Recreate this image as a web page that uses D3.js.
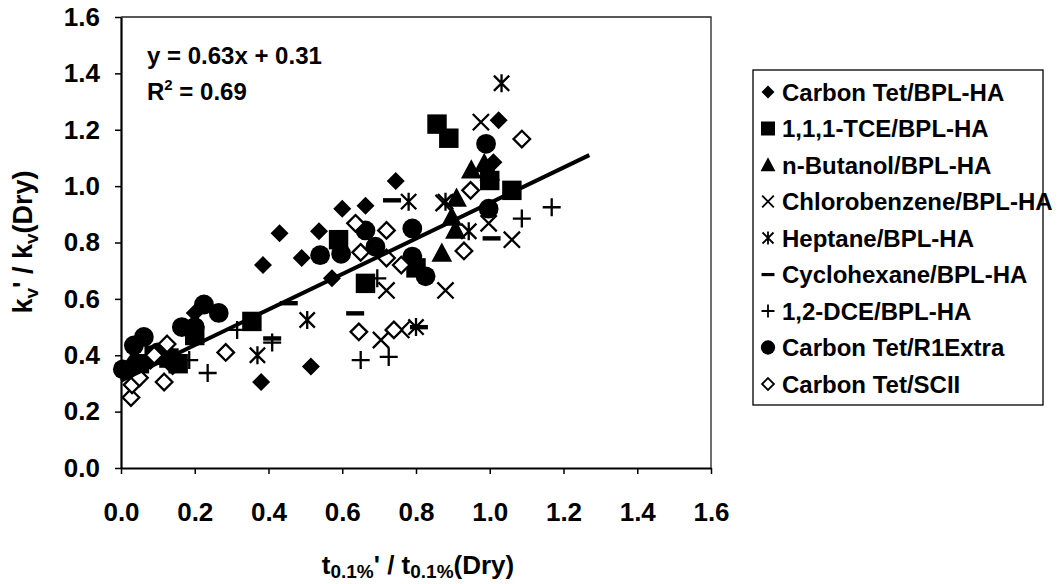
<!DOCTYPE html>
<html>
<head>
<meta charset="utf-8">
<script src="https://cdn.jsdelivr.net/npm/d3@7"></script>
<style>
  body { margin: 0; background: #fff; }
  text { font-family: "Liberation Sans", Arial, sans-serif; font-weight: bold; fill: #000; }
</style>
</head>
<body>
<svg id="chart" width="1063" height="584"></svg>
<script>
// axis ticks
const xTicks = [0, 0.2, 0.4, 0.6, 0.8, 1.0, 1.2, 1.4, 1.6];
const yTicks = [0, 0.2, 0.4, 0.6, 0.8, 1.0, 1.2, 1.4, 1.6];

const seriesNames = [
  "Carbon Tet/BPL-HA", "1,1,1-TCE/BPL-HA", "n-Butanol/BPL-HA", "Chlorobenzene/BPL-HA",
  "Heptane/BPL-HA", "Cyclohexane/BPL-HA", "1,2-DCE/BPL-HA", "Carbon Tet/R1Extra", "Carbon Tet/SCII"
];
const markerKinds = ["diamond", "square", "triangle", "cross", "star", "dash", "plus", "circle", "openDiamond"];

// [x, y] pairs
const carbonTetBPL = [[0.03,0.34],[0.08,0.38],[0.14,0.36],[0.12,0.42],[0.2,0.55],[0.38,0.305],[0.385,0.72],
  [0.43,0.833],[0.49,0.745],[0.515,0.36],[0.537,0.84],[0.572,0.673],[0.6,0.92],[0.663,0.93],[0.745,1.018],
  [1.01,1.085],[1.024,1.234]];
const tceBPL = [[0.05,0.37],[0.09,0.4],[0.13,0.39],[0.155,0.37],[0.2,0.47],[0.355,0.52],[0.59,0.81],
  [0.663,0.655],[0.8,0.71],[0.857,1.22],[0.889,1.17],[1.0,1.02],[1.06,0.985]];
const butanolBPL = [[0.79,0.74],[0.87,0.762],[0.897,0.89],[0.907,0.844],[0.91,0.957],[0.95,1.057],
  [0.985,1.08],[1.0,1.05]];
const chlorobenzeneBPL = [[0.705,0.454],[0.72,0.63],[0.76,0.49],[0.875,0.94],[0.88,0.63],[0.976,1.227],
  [0.997,0.868],[1.06,0.81]];
const heptaneBPL = [[0.37,0.4],[0.505,0.525],[0.78,0.945],[0.8,0.5],[0.88,0.945],[0.943,0.84],[1.032,1.365]];
const cyclohexaneBPL = [[0.41,0.46],[0.455,0.585],[0.635,0.549],[0.735,0.95],[0.808,0.5],[1.005,0.815]];
const dceBPL = [[0.185,0.383],[0.235,0.337],[0.315,0.49],[0.41,0.445],[0.65,0.383],[0.695,0.673],
  [0.726,0.394],[1.087,0.885],[1.168,0.925]];
const carbonTetR1 = [[0.005,0.35],[0.04,0.37],[0.035,0.435],[0.062,0.465],[0.1,0.41],[0.13,0.39],
  [0.165,0.5],[0.2,0.5],[0.225,0.58],[0.265,0.55],[0.54,0.755],[0.597,0.76],[0.663,0.843],[0.69,0.785],
  [0.79,0.85],[0.79,0.75],[0.826,0.68],[0.997,0.92],[0.99,1.15]];
const carbonTetSCII = [[0.027,0.25],[0.03,0.295],[0.05,0.32],[0.09,0.4],[0.117,0.305],[0.125,0.44],
  [0.284,0.41],[0.636,0.868],[0.645,0.483],[0.65,0.765],[0.72,0.843],[0.72,0.745],[0.74,0.49],[0.76,0.72],
  [0.93,0.77],[0.948,0.985],[1.087,1.167]];

const seriesData = [carbonTetBPL, tceBPL, butanolBPL, chlorobenzeneBPL, heptaneBPL,
  cyclohexaneBPL, dceBPL, carbonTetR1, carbonTetSCII];

// fitted line, y = 0.63x + 0.31
const trendPoints = [[0.0, 0.31], [1.27, 1.11]];

const svg = d3.select("#chart");
const x = d3.scaleLinear().domain([0, 1.6]).range([121, 711]);
const y = d3.scaleLinear().domain([0, 1.6]).range([468, 17]);

// plot frame (top and right are thin)
svg.append("path")
  .attr("d", `M${x(0)},${y(1.6)}H${x(1.6)}V${y(0)}`)
  .attr("fill", "none").attr("stroke", "#222").attr("stroke-width", 1.3);

const yAxis = svg.append("g")
  .attr("transform", `translate(${x(0)},0)`)
  .call(d3.axisLeft(y).tickValues(yTicks).tickFormat(d3.format(".1f")).tickSize(6).tickSizeOuter(0).tickPadding(15));
const xAxis = svg.append("g")
  .attr("transform", `translate(0,${y(0)})`)
  .call(d3.axisBottom(x).tickValues(xTicks).tickFormat(d3.format(".1f")).tickSize(6).tickSizeOuter(0).tickPadding(29));

[yAxis, xAxis].forEach(a => {
  a.attr("font-family", null);
  a.select(".domain").attr("stroke", "#000").attr("stroke-width", 2.2);
  a.selectAll(".tick line").attr("stroke", "#000").attr("stroke-width", 1.5);
  a.selectAll(".tick text").attr("font-size", 26).attr("fill", "#000");
});

function drawMarker(g, kind, k, sw) {
  const s = 9 * k;
  if (kind === "diamond") {
    g.append("path").attr("d", `M0,${-s}L${s},0L0,${s}L${-s},0Z`).attr("fill", "#000");
  } else if (kind === "square") {
    const q = s * 1.08;
    g.append("rect").attr("x", -q).attr("y", -q).attr("width", 2 * q).attr("height", 2 * q).attr("fill", "#000");
  } else if (kind === "triangle") {
    g.append("path").attr("d", `M0,${-1.2 * s}L${1.15 * s},${0.95 * s}L${-1.15 * s},${0.95 * s}Z`).attr("fill", "#000");
  } else if (kind === "circle") {
    g.append("circle").attr("r", s * 1.1).attr("fill", "#000");
  } else if (kind === "cross") {
    const c = s * 0.9;
    g.append("path").attr("d", `M${-c},${-c}L${c},${c}M${c},${-c}L${-c},${c}`)
      .attr("stroke", "#000").attr("stroke-width", sw).attr("fill", "none");
  } else if (kind === "star") {
    const c = s * 0.85;
    g.append("path").attr("d", `M${-c},${-c}L${c},${c}M${c},${-c}L${-c},${c}M0,${-s}V${s}`)
      .attr("stroke", "#000").attr("stroke-width", sw).attr("fill", "none");
  } else if (kind === "dash") {
    g.append("rect").attr("x", -s).attr("y", -2.1 * k).attr("width", 2 * s).attr("height", 4.4 * k).attr("fill", "#000");
  } else if (kind === "plus") {
    g.append("path").attr("d", `M${-s},0H${s}M0,${-s}V${s}`)
      .attr("stroke", "#000").attr("stroke-width", sw).attr("fill", "none");
  } else if (kind === "openDiamond") {
    const c = s * 0.92;
    g.append("path").attr("d", `M0,${-c}L${c},0L0,${c}L${-c},0Z`)
      .attr("fill", "#fff").attr("stroke", "#000").attr("stroke-width", sw);
  }
}

// series markers
const pts = svg.append("g");
seriesData.forEach((data, i) => {
  pts.append("g").attr("class", "series")
    .selectAll("g")
    .data(data)
    .join("g")
    .attr("transform", d => `translate(${x(d[0])},${y(d[1])})`)
    .each(function () { drawMarker(d3.select(this), markerKinds[i], 1, 2.3); });
});

// trend line
svg.append("path")
  .datum(trendPoints)
  .attr("d", d3.line().x(d => x(d[0])).y(d => y(d[1])))
  .attr("stroke", "#000").attr("stroke-width", 4).attr("fill", "none");

// equation
const eq = svg.append("g").attr("font-size", 24);
eq.append("text").attr("x", 147).attr("y", 64).text("y = 0.63x + 0.31");
const r2 = eq.append("text").attr("x", 147).attr("y", 100);
r2.append("tspan").text("R");
r2.append("tspan").attr("font-size", 15).attr("dy", -10).text("2");
r2.append("tspan").attr("dy", 10).text(" = 0.69");

// axis titles
const xt = svg.append("text").attr("x", 418).attr("y", 574).attr("text-anchor", "middle").attr("font-size", 26);
xt.append("tspan").text("t");
xt.append("tspan").attr("font-size", 19).attr("dy", 4).text("0.1%");
xt.append("tspan").attr("dy", -4).text("' / t");
xt.append("tspan").attr("font-size", 19).attr("dy", 4).text("0.1%");
xt.append("tspan").attr("dy", -4).text("(Dry)");

const yt = svg.append("text").attr("transform", "translate(32,242) rotate(-90)")
  .attr("text-anchor", "middle").attr("font-size", 27);
yt.append("tspan").text("k");
yt.append("tspan").attr("font-size", 19).attr("dy", 6).text("v");
yt.append("tspan").attr("dy", -6).text("' / k");
yt.append("tspan").attr("font-size", 19).attr("dy", 6).text("v");
yt.append("tspan").attr("dy", -6).text("(Dry)");

// legend
const legend = svg.append("g");
legend.append("rect").attr("x", 753).attr("y", 70).attr("width", 290).attr("height", 335)
  .attr("fill", "#fff").attr("stroke", "#000").attr("stroke-width", 1.3);
const rowY = d3.scalePoint().domain(seriesNames).range([92, 384]);
const rows = legend.selectAll("g.row").data(seriesNames).join("g")
  .attr("class", "row")
  .attr("transform", d => `translate(0,${rowY(d)})`);
rows.each(function (d, i) {
  const m = d3.select(this).append("g").attr("transform", "translate(768,0)");
  drawMarker(m, markerKinds[i], 0.72, 1.8);
});
rows.append("text").attr("x", 782).attr("y", 8.5).attr("font-size", 24).text(d => d);
</script>
</body>
</html>
